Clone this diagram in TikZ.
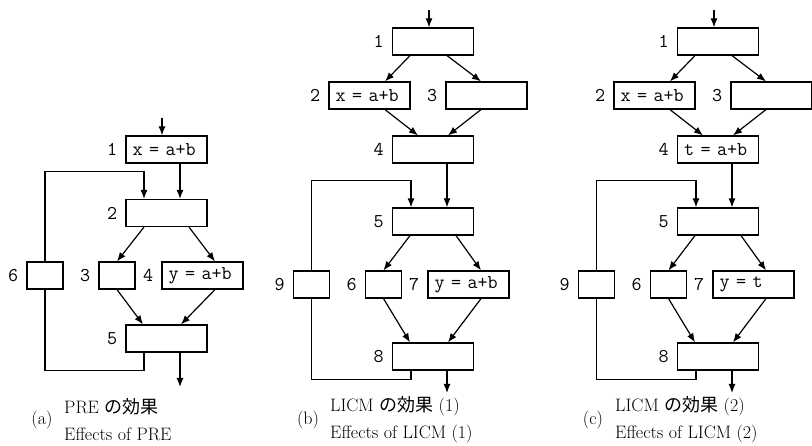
\documentclass[tikz,border=0pt]{standalone}
\usepackage{fontspec}
\newfontfamily\jpfont{Noto Sans CJK JP}
\usetikzlibrary{positioning,arrows.meta}

\tikzset{
  blk/.style={draw, line width=1.2pt, minimum height=27pt, inner sep=0pt,
    font=\ttfamily\fontsize{19.5}{19.5}\selectfont},
  wide/.style={blk, minimum width=81pt, text width=72pt, inner xsep=4.5pt, align=left},
  narrow/.style={blk, minimum width=36pt},
  num/.style={inner sep=0pt, font=\ttfamily\fontsize{19.5}{19.5}\selectfont},
  flow/.style={line width=1.2pt, -{Latex[length=9pt,width=7pt]}},
  edge/.style={line width=1.2pt},
  capt/.style={inner sep=0pt, align=left, font=\fontsize{18}{27}\selectfont},
  tag/.style={inner sep=0pt, font=\fontsize{18}{20}\selectfont}
}

\begin{document}
\begin{tikzpicture}[x=1pt, y=-1pt]
	
	\useasboundingbox (0,0) rectangle (812,446);
	
	% --- (a) PRE ---
	\node[wide] (a1) at (166.5,149.5) {\hspace*{2pt}x = a+b};
	\node[wide] (a2) at (166.5,213) {};
	\node[narrow] (a6) at (45,275.5) {};
	\node[narrow] (a3) at (117,275.5) {};
	\node[wide] (a4) at (202.5,275.5) {\hspace*{2pt}y = a+b};
	\node[wide] (a5) at (166.5,338.5) {};
	
	% block numbers
	\node[num, left=8pt of a1] (a1n) {1};
	\node[num, left=8pt of a2] (a2n) {2};
	\node[num, left=8pt of a6] (a6n) {6};
	\node[num, left=8pt of a3] (a3n) {3};
	\node[num, left=8pt of a4] (a4n) {4};
	\node[num, left=8pt of a5] (a5n) {5};
	
	\coordinate (ain) at (162,118);
	\coordinate (aout) at (180,387);
	
	\draw[flow] (ain) -- ([xshift=-4.5pt]a1.north);
	\draw[flow] ([xshift=13.5pt]a1.south) -- ([xshift=13.5pt]a2.north);
	\draw[flow] ([xshift=-22.5pt]a2.south) -- (a3.north);
	\draw[flow] ([xshift=22.5pt]a2.south) -- ([xshift=12.5pt]a4.north);
	\draw[flow] (a3.south) -- ([xshift=-23.5pt]a5.north);
	\draw[flow] ([xshift=12.5pt]a4.south) -- ([xshift=14.5pt]a5.north);
	\draw[flow] ([xshift=13.5pt]a5.south) -- (aout);
	% loop through block 6
	\draw[flow] (a6.north) -- ++(0,-90) -| ([xshift=-22.5pt]a2.north);
	\draw[edge] (a6.south) -- ++(0,81) -| ([xshift=-22.5pt]a5.south);
	
	\node[tag] (acap) at (42,420) {(a)};
	\node[capt, anchor=west] (acapt) at (64,420) {PRE {\jpfont の効果}\\Effects of PRE};
	
	% --- (b), (c) LICM ---
	\foreach \sx/\p/\four/\seven/\n in {0/b/{}/{y = a+b}/1, 285/c/{t = a+b}/{y = t}/2} {
		\begin{scope}[xshift=\sx pt]
			\node[wide] (\p1) at (433,41.5) {};
			\node[wide] (\p2) at (369.5,95.5) {\hspace*{2pt}x = a+b};
			\node[wide] (\p3) at (486.5,95.5) {};
			\node[wide] (\p4) at (433,149.5) {\hspace*{2pt}\four};
			\node[wide] (\p5) at (433,221.5) {};
			\node[narrow] (\p9) at (311.5,284.5) {};
			\node[narrow] (\p6) at (383.5,284.5) {};
			\node[wide] (\p7) at (468.5,284.5) {\hspace*{2pt}\seven};
			\node[wide] (\p8) at (433,356.5) {};
			
			\foreach \k in {1,...,9} {
				\node[num, left=8pt of \p\k] (\p\k n) {\k};
			}
			
			\coordinate (\p in) at (429,10);
			\coordinate (\p out) at (447,393);
			
			\draw[flow] (\p in) -- ([xshift=-4pt]\p1.north);
			\draw[flow] ([xshift=-23pt]\p1.south) -- ([xshift=15.5pt]\p2.north);
			\draw[flow] ([xshift=14pt]\p1.south) -- ([xshift=-5.5pt]\p3.north);
			\draw[flow] ([xshift=15.5pt]\p2.south) -- ([xshift=-15pt]\p4.north);
			\draw[flow] ([xshift=-5.5pt]\p3.south) -- ([xshift=15pt]\p4.north);
			\draw[flow] ([xshift=14pt]\p4.south) -- ([xshift=14pt]\p5.north);
			\draw[flow] ([xshift=-23pt]\p5.south) -- (\p6.north);
			\draw[flow] ([xshift=23pt]\p5.south) -- ([xshift=12.5pt]\p7.north);
			\draw[flow] (\p6.south) -- ([xshift=-23pt]\p8.north);
			\draw[flow] ([xshift=12.5pt]\p7.south) -- ([xshift=15pt]\p8.north);
			\draw[flow] ([xshift=14pt]\p8.south) -- (\p out);
			% loop through block 9
			\draw[flow] (\p9.north) -- ++(0,-90) -| ([xshift=-22pt]\p5.north);
			\draw[edge] (\p9.south) -- ++(0,81) -| ([xshift=-22pt]\p8.south);
			
			\node[tag] (\p cap) at (308,420) {(\p)};
			\node[capt, anchor=west] (\p capt) at (330,420) {LICM {\jpfont の効果} (\n)\\Effects of LICM (\n)};
		\end{scope}
	}
	
\end{tikzpicture}
\end{document}
